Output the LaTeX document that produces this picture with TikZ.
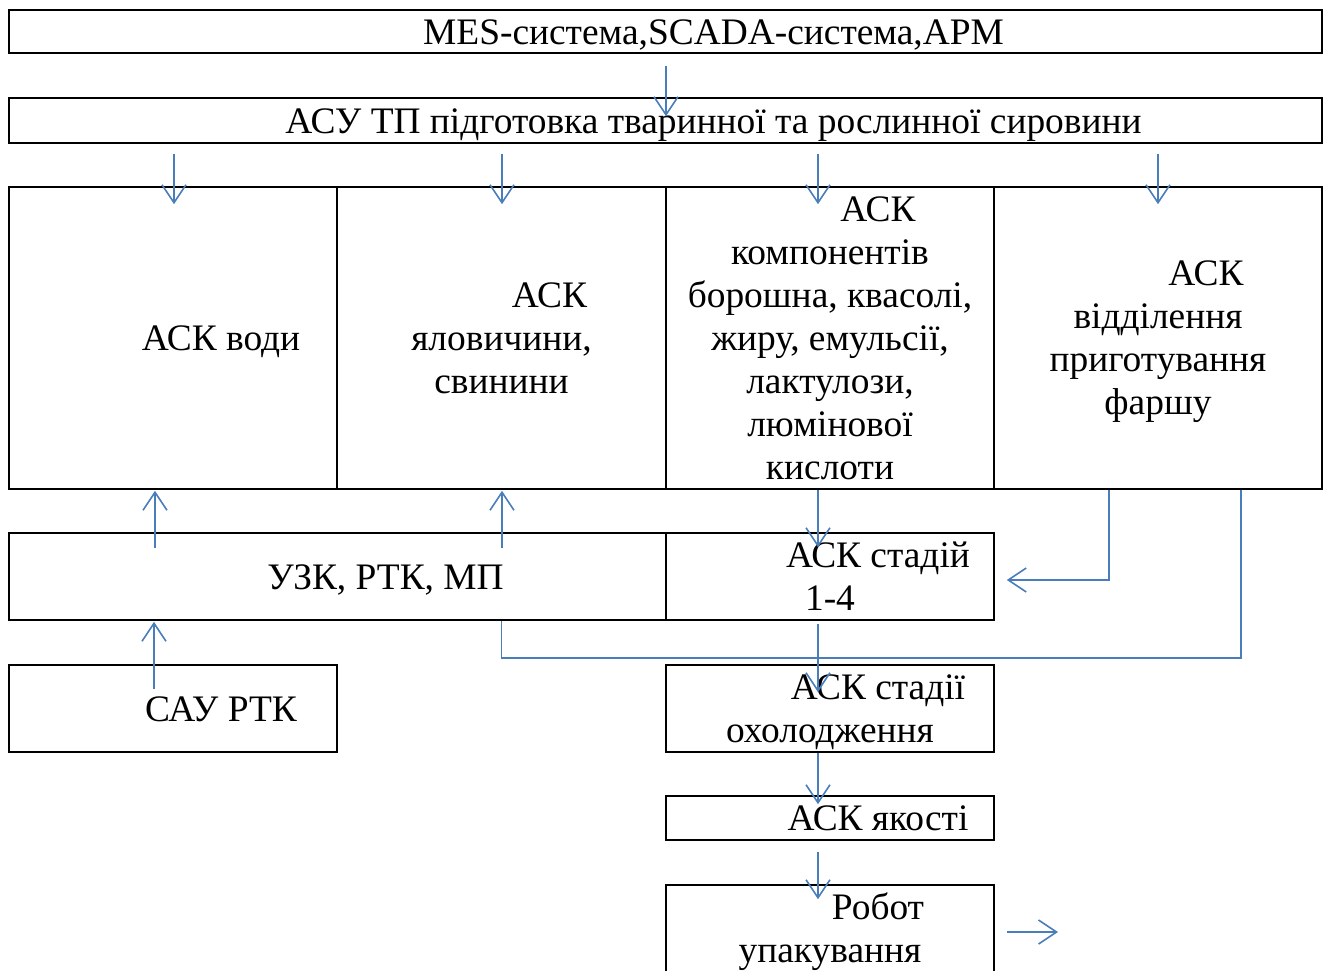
\documentclass[tikz,border=0pt]{standalone}
\usepackage{fontspec}
\setmainfont{Liberation Serif}
\usetikzlibrary{arrows.meta,calc}
\definecolor{flow}{RGB}{74,126,187}
% first-line indent used inside the block labels
\newcommand\tabin{\hspace*{96pt}}
% strut fixing the top of the first line and the bottom of the last line
\newcommand\sr{\rule[-8pt]{0pt}{41pt}}
\begin{document}
\begin{tikzpicture}[x=1pt,y=-1pt,
  box/.style={draw=black, line width=1.6pt, inner sep=0pt, align=center,
    font=\fontsize{37.4}{43}\selectfont},
  flowline/.style={draw=flow, line width=1.6pt},
  arr/.style={flowline, -{Straight Barb[length=18pt,width=24pt]}},
]
\useasboundingbox (0,0) rectangle (1323,970);
\clip (0,0) rectangle (1323,970);

% upper level
\node[box, minimum width=1313pt, minimum height=43pt] (mes) at (665.5,31.5)
  {\tabin\sr MES-система,SCADA-система,АРМ};
\node[box, minimum width=1313pt, minimum height=45pt] (asu) at (665.5,120.5)
  {\tabin\sr АСУ ТП підготовка тваринної та рослинної сировини};

% subsystems
\node[box, minimum width=328pt, minimum height=302pt] (water) at (173,338)
  {\tabin\sr АСК води};
\node[box, minimum width=329pt, minimum height=302pt] (meat) at (501.5,338)
  {\tabin\sr АСК\\яловичини,\\свинини\sr};
\node[box, minimum width=328pt, minimum height=302pt] (comp) at (830,338)
  {\tabin\sr АСК\\компонентів\\борошна, квасолі,\\жиру, емульсії,\\лактулози,\\люмінової\\кислоти\sr};
\node[box, minimum width=328pt, minimum height=302pt] (farsh) at (1158,338)
  {\tabin\sr АСК\\відділення\\приготування\\фаршу\sr};

% lower level
\node[box, minimum width=657pt, minimum height=87pt] (uzk) at (337.5,576.5)
  {\tabin\sr УЗК, РТК, МП};
\node[box, minimum width=328pt, minimum height=87pt] (st14) at (830,576.5)
  {\tabin\sr АСК стадій\\1-4\sr};
\node[box, minimum width=328pt, minimum height=87pt] (saurtk) at (173,708.5)
  {\tabin\sr САУ РТК};
\node[box, minimum width=328pt, minimum height=87pt] (cool) at (830,708.5)
  {\tabin\sr АСК стадії\\охолодження\sr};
\node[box, minimum width=328pt, minimum height=44pt] (qual) at (830,818)
  {\tabin\sr АСК якості};
\node[box, minimum width=328pt, minimum height=88pt] (robot) at (830,929)
  {\tabin\sr Робот\\упакування\sr};
\coordinate (out) at (1058,932);

% downward links
\draw[arr] ($(mes.south)+(0.5,12)$) -- ($(asu.north)+(0.5,19)$);
\foreach \n/\dx in {water/1, meat/0.5, comp/-12, farsh/0}
  \draw[arr] ($(asu.south -| \n.north)+(\dx,10)$) -- ($(\n.north)+(\dx,18)$);

% upward links
\draw[arr] ($(uzk.north -| water.south)+(-18,16)$) -- ($(water.south)+(-18,1)$);
\draw[arr] ($(uzk.north -| meat.south)+(0.5,16)$) -- ($(meat.south)+(0.5,1)$);
\draw[arr] ($(saurtk.north)+(-19,25)$) -- ($(uzk.south -| saurtk.north)+(-19,1)$);

% process chain
\draw[arr] ($(comp.south)+(-12,0)$) -- ($(st14.north)+(-12,15)$);
\draw[arr] ($(farsh.south)+(-49,0)$) |- ($(st14.east)+(12,3.5)$);
\draw[arr] ($(st14.south)+(-12,3)$) -- ($(cool.north)+(-12,28)$);
\draw[flowline] (uzk.south -| meat.south) -- ++(0,37) -| ($(farsh.south)+(83,0)$);
\draw[arr] ($(cool.south)+(-12,0)$) -- ($(qual.north)+(-12,9)$);
\draw[arr] ($(qual.south)+(-12,11)$) -- ($(robot.north)+(-12,15)$);
\draw[arr] ($(robot.east)+(12,3)$) -- (out);
\end{tikzpicture}
\end{document}
